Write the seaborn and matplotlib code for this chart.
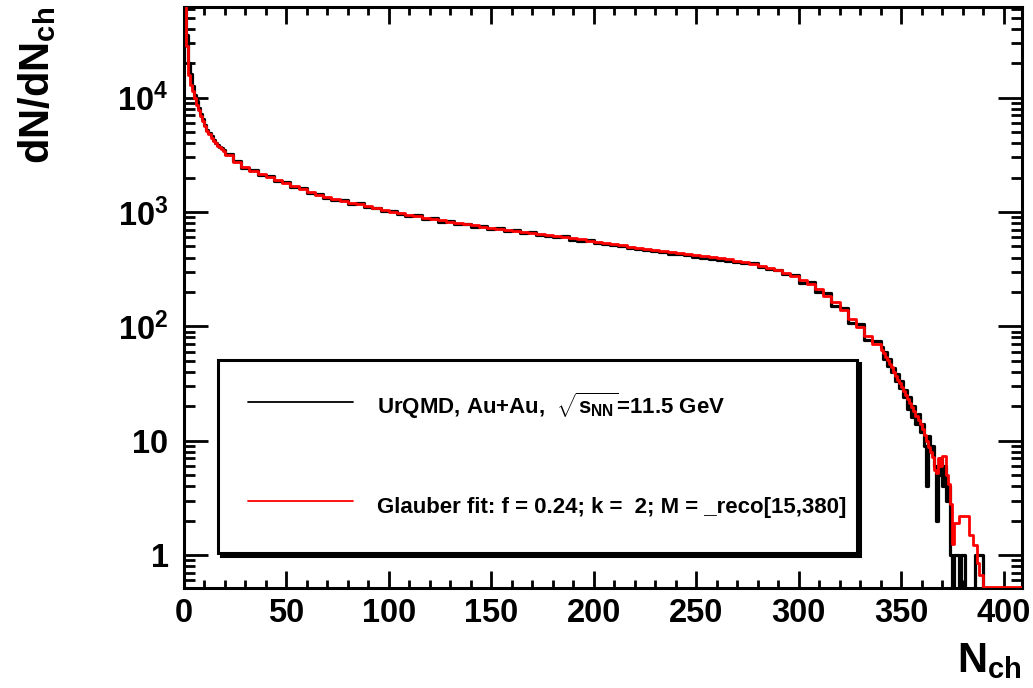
import numpy as np
import pandas as pd
import matplotlib
matplotlib.use("Agg")
import matplotlib.pyplot as plt
import seaborn as sns

# ---------------- data ----------------
# bin edges: 1-unit bins for 0..20, 4-unit bins for 20..340, 1-unit bins for 340..410
edges_head = list(range(0, 20))
edges_mid = list(range(20, 340, 4))
edges_tail = list(range(340, 411))
bin_edges = [float(e) for e in edges_head + edges_mid + edges_tail]

urqmd_head = [90000, 35000, 20000, 16000, 12600, 10500, 9300, 8100, 7200, 6500,
              5800, 5200, 4900, 4600, 4250, 4050, 3850, 3700, 3600, 3450]
urqmd_mid = [3230, 2800, 2430, 2340, 2100, 2060, 1870, 1840, 1650, 1620,
             1470, 1450, 1330, 1270, 1275, 1180, 1190, 1100, 1090, 1015,
             1025, 960, 930, 940, 875, 885, 820, 835, 785, 790,
             745, 755, 710, 722, 680, 690, 650, 664, 628, 615,
             600, 612, 570, 562, 570, 535, 527, 512, 505, 482,
             478, 465, 458, 447, 432, 430, 418, 408, 400, 385,
             382, 375, 362, 355, 360, 330, 315, 312, 285, 280,
             240, 242, 200, 195, 150, 145, 108, 104, 76, 74]
urqmd_tail = [66, 52, 60, 45, 52, 40, 43, 33, 38, 29,
              33, 24, 28, 19, 24, 16, 20, 14, 17, 12,
              14, 9, 4, 11, 8, 9, 6, 2, 5, 7,
              4, 6, 3, 4, 1, 0, 1, 1, 0, 1,
              1, 0, 0, 0, 0, 0, 1, 1, 1, 1,
              0, 0, 0, 0, 0, 0, 0, 0, 0, 0,
              0, 0, 0, 0, 0, 0, 0, 0, 0, 0]

glauber_head = [90000, 28000, 15800, 13000, 11500, 10000, 8700, 7800, 6900, 6200,
                5600, 5100, 4800, 4470, 4200, 3980, 3800, 3670, 3550, 3430]
glauber_mid = [3160, 2750, 2480, 2290, 2140, 2020, 1905, 1800, 1690, 1590,
               1505, 1420, 1350, 1300, 1250, 1210, 1165, 1120, 1075, 1040,
               1007, 977, 948, 920, 893, 869, 843, 820, 798, 780,
               762, 743, 728, 711, 697, 681, 667, 653, 640, 627,
               614, 601, 587, 575, 562, 551, 538, 525, 512, 499,
               489, 479, 469, 459, 450, 441, 432, 422, 412, 403,
               394, 385, 375, 363, 351, 337, 324, 308, 292, 274,
               254, 233, 212, 186, 162, 138, 116, 98, 82, 70]
glauber_tail = [62, 58, 54, 51, 47, 44, 40, 37, 34, 32,
                29.5, 27, 25, 23, 21.4, 19.7, 18.2, 16.6, 15.3, 14.1,
                12.6, 11.2, 10, 8.9, 7.9, 7.2, 5.6, 5.2, 7.1, 6.0,
                7.4, 7.4, 5.0, 4.2, 2.8, 1.26, 1.9, 1.9, 2.2, 2.2,
                2.2, 2.2, 2.2, 1.5, 1.5, 1.22, 1.22, 0.85, 0.67, 0.67,
                0.53, 0.53, 0.53, 0.53, 0.53, 0.53, 0.53, 0.53, 0.53, 0.53,
                0.53, 0.53, 0.53, 0.53, 0.53, 0.53, 0.53, 0.53, 0.53, 0.53]

urqmd = urqmd_head + urqmd_mid + urqmd_tail
glauber = glauber_head + glauber_mid + glauber_tail

label_urqmd = r"UrQMD, Au+Au,  $\sqrt{s_{NN}}$=11.5 GeV"
label_glauber = "Glauber fit: f = 0.24; k =  2; M = _reco[15,380]"

x_ticks = [0, 50, 100, 150, 200, 250, 300, 350, 400]
y_ticks = [1, 10, 100, 1000, 10000]
y_ticklabels = ["1", "10", r"$10^{2}$", r"$10^{3}$", r"$10^{4}$"]

# ---------------- style ----------------
sns.set_theme(style="ticks")
plt.rcParams["font.family"] = ["Liberation Sans", "DejaVu Sans"]
plt.rcParams["font.weight"] = "bold"
plt.rcParams["mathtext.fontset"] = "custom"
plt.rcParams["mathtext.rm"] = "Liberation Sans:bold"
plt.rcParams["mathtext.it"] = "Liberation Sans:bold"
plt.rcParams["mathtext.bf"] = "Liberation Sans:bold"
plt.rcParams["mathtext.sf"] = "Liberation Sans:bold"
for key in ["text.color", "axes.labelcolor", "xtick.color", "ytick.color",
            "xtick.labelcolor", "ytick.labelcolor", "axes.edgecolor"]:
    plt.rcParams[key] = "black"

edges_arr = np.array(bin_edges)
centers = (edges_arr[:-1] + edges_arr[1:]) / 2
df = pd.DataFrame({"nch": centers, "urqmd": urqmd, "glauber": glauber})

fig = plt.figure(figsize=(10.33, 6.88), dpi=100)
ax = fig.add_axes([0.178, 0.1453, 0.8114, 0.8445])

sns.histplot(data=df, x="nch", weights="urqmd", bins=bin_edges, element="step",
             fill=False, color="black", linewidth=2.3, ax=ax, label=label_urqmd,
             zorder=3)
sns.histplot(data=df, x="nch", weights="glauber", bins=bin_edges, element="step",
             fill=False, color="#ff0000", linewidth=2.0, ax=ax, label=label_glauber,
             zorder=4)

ax.set_yscale("log")
ax.set_xlim(0, 409)
ax.set_ylim(0.515, 6.2e4)

ax.set_xticks(x_ticks)
ax.set_xticklabels([str(t) for t in x_ticks])
ax.xaxis.set_minor_locator(matplotlib.ticker.MultipleLocator(10))
ax.set_yticks(y_ticks)
ax.set_yticklabels(y_ticklabels)
ax.yaxis.set_minor_locator(matplotlib.ticker.LogLocator(base=10, subs=np.arange(2, 10)))
ax.yaxis.set_minor_formatter(matplotlib.ticker.NullFormatter())

ax.tick_params(which="both", direction="in", top=True, right=True, width=2.0,
               color="black", labelcolor="black", labelsize=23.5)
ax.tick_params(axis="x", which="major", length=12, pad=7)
ax.tick_params(axis="x", which="minor", length=6)
ax.tick_params(axis="y", which="major", length=17, pad=11)
ax.tick_params(axis="y", which="minor", length=8)
for lab in ax.get_xticklabels() + ax.get_yticklabels():
    lab.set_fontweight("bold")

for sp in ax.spines.values():
    sp.set_linewidth(2.2)
    sp.set_color("black")
    sp.set_visible(True)

ax.set_xlabel(r"N$_{\mathbf{ch}}$", fontsize=30, fontweight="bold", ha="right",
              color="black")
ax.xaxis.set_label_coords(1.0, -0.092)
ax.set_ylabel(r"dN/dN$_{\mathbf{ch}}$", fontsize=30, fontweight="bold", ha="right",
              color="black")
ax.yaxis.set_label_coords(-0.150, 1.0)

leg = ax.legend(loc="lower left", bbox_to_anchor=(0.0406, 0.0605, 0.7625, 0.3322),
                mode="expand", borderaxespad=0, fontsize=16, frameon=True,
                fancybox=False, handlelength=4.75, handletextpad=1.08,
                handleheight=2.0, labelspacing=2.9, borderpad=1.35,
                shadow={"color": "black", "alpha": 1.0})
frame = leg.get_frame()
frame.set_linewidth(2.2)
frame.set_edgecolor("black")
frame.set_facecolor("white")
for ln in leg.get_lines():
    ln.set_linewidth(1.3)
for t in leg.get_texts():
    t.set_fontweight("bold")
    t.set_color("black")

fig.savefig("out.png", dpi=100, facecolor="white")
